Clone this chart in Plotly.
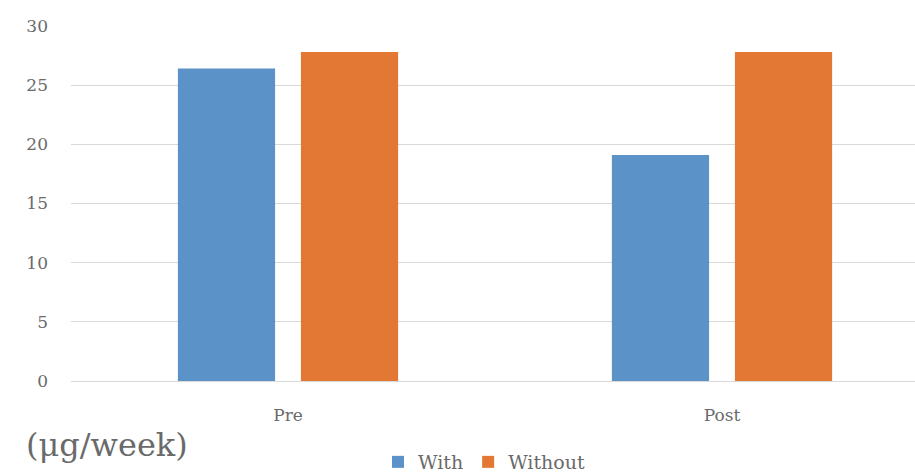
import plotly.graph_objects as go

categories = ["Pre", "Post"]
with_values = [26.4, 19.1]
without_values = [27.8, 27.8]
series_names = ["With", "Without"]
unit_label = "(μg/week)"

FONT = "DejaVu Serif, Liberation Serif, serif"
TEXT = "#6a6a6a"
W, H = 915, 476
ML, MR, MT, MB = 71, 0, 26, 95
plot_w = W - ML - MR
plot_h = H - MT - MB

fig = go.Figure()
fig.add_bar(x=categories, y=with_values, name=series_names[0],
            marker=dict(color="#5B93C9", line=dict(width=0)))
fig.add_bar(x=categories, y=without_values, name=series_names[1],
            marker=dict(color="#E27834", line=dict(width=0)))

# category spacing of 434 px; the right edge of the frame trims the last slot
cat_px = 434
x_hi = -0.5 + plot_w / cat_px

fig.update_layout(
    width=W, height=H,
    margin=dict(l=ML, r=MR, t=MT, b=MB, autoexpand=False),
    paper_bgcolor="white", plot_bgcolor="white",
    barmode="group", bargap=0.433, bargroupgap=0.21,
    font=dict(family=FONT, color=TEXT, size=17),
    showlegend=True,
    legend=dict(orientation="h", x=(484 - ML) / plot_w, xanchor="center",
                y=(H - MB - (H + 5)) / plot_h, yanchor="bottom",
                font=dict(size=19, color=TEXT),
                itemwidth=30, tracegroupgap=0, bgcolor="rgba(0,0,0,0)"),
    xaxis=dict(range=[-0.5, x_hi], showgrid=False, zeroline=False,
               showline=False, ticks="", tickfont=dict(size=17),
               ticklabelstandoff=22, automargin=False),
    yaxis=dict(range=[0, 30], dtick=5, showgrid=True, gridcolor="#D9D9D9",
               gridwidth=1, zeroline=True, zerolinecolor="#D9D9D9",
               zerolinewidth=1, showline=False, ticks="",
               tickfont=dict(size=17), ticklabelstandoff=22,
               automargin=False),
    annotations=[dict(text=unit_label, xref="paper", yref="paper",
                      x=(24 - ML) / plot_w, xanchor="left",
                      y=(H - MB - 445) / plot_h, yanchor="middle",
                      showarrow=False,
                      font=dict(size=32, color=TEXT, family=FONT))],
)

fig.write_html("out.html")
